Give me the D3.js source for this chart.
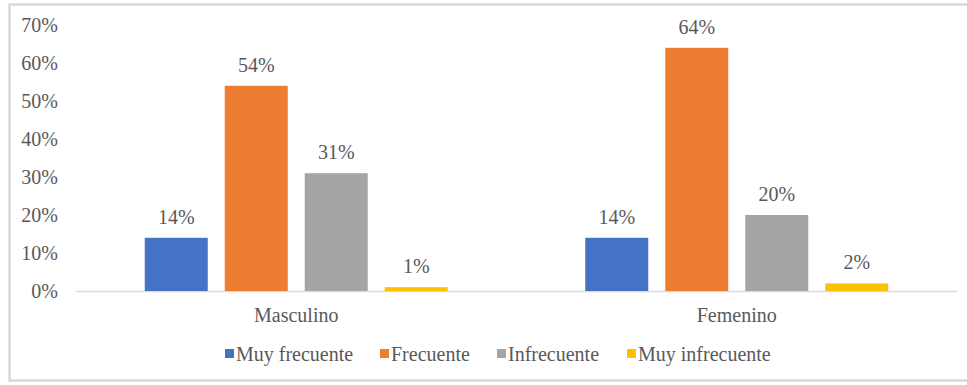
<!DOCTYPE html>
<html>
<head>
<meta charset="utf-8">
<script src="https://cdn.jsdelivr.net/npm/d3@7"></script>
<style>
  html, body { margin: 0; padding: 0; background: #fff; }
  svg text { font-family: "Liberation Serif", "Times New Roman", serif; fill: #595959; }
</style>
</head>
<body>
<svg id="chart" width="967" height="385"></svg>
<script>
// Grouped bar chart: frequency by sex
const groups = ["Masculino", "Femenino"];
const seriesNames = ["Muy frecuente", "Frecuente", "Infrecuente", "Muy infrecuente"];
const seriesColors = ["#4472C4", "#ED7D31", "#A5A5A5", "#FFC000"];
const masculinoValues = [14, 54, 31, 1];
const femeninoValues = [14, 64, 20, 2];
const yTicks = [0, 10, 20, 30, 40, 50, 60, 70];

const valuesByGroup = { "Masculino": masculinoValues, "Femenino": femeninoValues };

const svg = d3.select("#chart");
const W = 967, H = 385;
const FS = 20;

// outer chart frame
svg.append("rect")
  .attr("x", 9.5).attr("y", 4.5)
  .attr("width", W + 10).attr("height", 376)
  .attr("fill", "#fff")
  .attr("stroke", "#D9D9D9").attr("stroke-width", 2.5);

const plot = { left: 76, right: 957, top: 25, bottom: 291 };

const y = d3.scaleLinear().domain([0, 70]).range([plot.bottom, plot.top]);
const x0 = d3.scaleBand().domain(groups).range([plot.left, plot.right]).paddingInner(0).paddingOuter(0);
const x1 = d3.scaleBand().domain(seriesNames)
  .range([-151.5, 151.5]).paddingInner(0.2125).paddingOuter(0);

// y axis labels (no axis line, no gridlines)
const yAxis = d3.axisLeft(y).tickValues(yTicks).tickSize(0).tickPadding(0)
  .tickFormat(d => d + "%");
const yg = svg.append("g").attr("transform", "translate(58,0)").call(yAxis);
yg.select(".domain").remove();
yg.selectAll("text").attr("font-size", FS).attr("dy", "0.32em")
  .style("font-family", "\"Liberation Serif\", serif").attr("fill", "#595959");

// baseline
const xAxis = d3.axisBottom(x0).tickSize(0).tickPadding(0);
const xg = svg.append("g").attr("transform", `translate(0,${plot.bottom})`).call(xAxis);
xg.select(".domain").attr("stroke", "#D9D9D9").attr("stroke-width", 1.5);
xg.selectAll("text").attr("font-size", FS).attr("dy", 0).attr("y", 31)
  .style("font-family", "\"Liberation Serif\", serif").attr("fill", "#595959");

// bars and value labels
const gGroups = svg.selectAll(".grp").data(groups).enter().append("g")
  .attr("class", "grp")
  .attr("transform", d => `translate(${x0(d) + x0.bandwidth() / 2},0)`);

gGroups.selectAll("rect.bar")
  .data(g => seriesNames.map((s, i) => ({ s, i, v: valuesByGroup[g][i] })))
  .enter().append("rect").attr("class", "bar")
  .attr("x", d => x1(d.s))
  .attr("width", x1.bandwidth())
  .attr("y", d => y(d.v))
  .attr("height", d => y(0) - y(d.v))
  .attr("fill", d => seriesColors[d.i]);

gGroups.selectAll("text.lbl")
  .data(g => seriesNames.map((s, i) => ({ s, i, v: valuesByGroup[g][i] })))
  .enter().append("text").attr("class", "lbl")
  .attr("x", d => x1(d.s) + x1.bandwidth() / 2)
  .attr("y", d => y(d.v) - 14)
  .attr("text-anchor", "middle")
  .attr("font-size", FS)
  .text(d => d.v + "%");

// legend
const legendItemsX = [225, 380, 497, 627];
const leg = svg.append("g").attr("transform", "translate(0,354)");
const items = leg.selectAll("g").data(seriesNames).enter().append("g")
  .attr("transform", (d, i) => `translate(${legendItemsX[i]},0)`);
items.append("rect").attr("x", 0).attr("y", -5).attr("width", 9).attr("height", 9)
  .attr("fill", (d, i) => seriesColors[i]);
items.append("text").attr("x", 11).attr("y", 7).attr("font-size", FS).text(d => d);
</script>
</body>
</html>
